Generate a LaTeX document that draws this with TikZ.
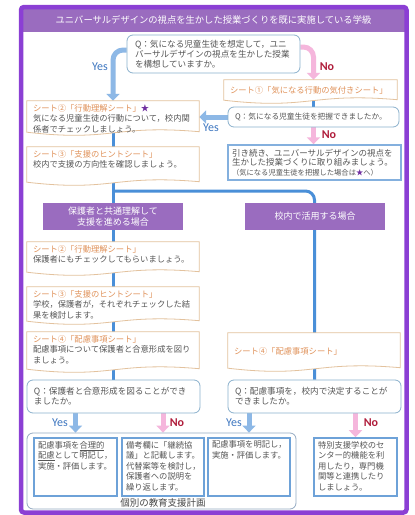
\documentclass[tikz,border=0pt]{standalone}
\usepackage{fontspec}
\setmainfont{Noto Sans CJK JP}
\newfontfamily\lat{Carlito}
\usetikzlibrary{arrows.meta,calc}
\definecolor{frameP}{HTML}{8B3FD4}
\definecolor{bandP}{HTML}{9A6CBF}
\definecolor{txt}{HTML}{555555}
\definecolor{orng}{HTML}{E0925A}
\definecolor{sheetB}{HTML}{E3C29E}
\definecolor{qB}{HTML}{8AB0CC}
\definecolor{lineB}{HTML}{4A8FD8}
\definecolor{yesA}{HTML}{8DB8E6}
\definecolor{noA}{HTML}{F5B6DC}
\definecolor{yesT}{HTML}{3D76C0}
\definecolor{noT}{HTML}{B01E3C}
\definecolor{ibB}{HTML}{6EA2D8}
\definecolor{bigB}{HTML}{94AAC2}
\definecolor{starP}{HTML}{7030A0}
\pgfdeclarelayer{back}
\pgfdeclarelayer{lines}
\pgfdeclarelayer{shapes}
\pgfsetlayers{back,lines,shapes,main}
\newcommand\tb[4][t]{\parbox[c][#3][#1]{#2}{\raggedright #4}}
\newcommand\sheetshape[1]{\path[sheetdraw] (#1.north west) -- (#1.north east) -- ([yshift=1.5pt]#1.south east) .. controls ([yshift=9pt]#1.south) and ([yshift=-9pt]#1.south) .. ([yshift=1pt]#1.south west) -- cycle;}
\begin{document}
\begin{tikzpicture}[x=1pt,y=-1pt,
  base/.style={text=txt, font=\fontsize{8.3pt}{10.5pt}\selectfont},
  qbox/.style={base, draw=qB, line width=0.8pt, fill=white, rounded corners=6pt, inner sep=0pt, align=left, font=\fontsize{8.6pt}{9.8pt}\selectfont},
  sheet/.style={base, inner xsep=6pt, inner ysep=3pt},
  sheetdraw/.style={draw=sheetB, line width=0.8pt, fill=white},
  ibox/.style={base, draw=ibB, line width=1.6pt, fill=white, inner xsep=4pt, inner ysep=3pt},
  kbox/.style={base, draw=ibB!85, line width=1.4pt, fill=white, inner sep=0pt, align=left, font=\fontsize{8.5pt}{9.7pt}\selectfont},
  plbl/.style={fill=bandP, text=white, align=center, inner sep=0pt, font=\fontsize{9pt}{11pt}\selectfont},
  bigbox/.style={draw=bigB, line width=0.8pt, rounded corners=6pt, inner sep=0pt},
  yn/.style={inner sep=0pt, font=\lat\fontsize{12pt}{12pt}\selectfont},
  yeslbl/.style={yn, text=yesT},
  nolbl/.style={yn, text=noT, font=\lat\bfseries\fontsize{12pt}{12pt}\selectfont},
  vline/.style={draw=lineB, line width=3pt},
  fatarr/.style={line width=5pt, -{Triangle[length=7pt,width=13pt]}},
  yesarr/.style={fatarr, draw=yesA},
  noarr/.style={fatarr, draw=noA}]
\useasboundingbox (0,0) rectangle (415,515);
% frame
\begin{pgfonlayer}{back}
\fill[white] (21,7) rectangle (406.5,512.5);
\fill[bandP] (21,7) rectangle (406.5,32);
\end{pgfonlayer}
\node[text=white, inner sep=0pt, font=\fontsize{9.3pt}{11pt}\selectfont] (ttl) at (213.5,19.5) {ユニバーサルデザインの視点を生かした授業づくりを既に実施している学級};
% questions
\node[qbox, minimum width=173pt, minimum height=38pt, text width=157pt] (q1) at (213.5,54) {Q：気になる児童生徒を想定して，ユニ\\バーサルデザインの視点を生かした授業\\を構想していますか。};
\node[qbox, minimum width=171pt, minimum height=20pt, text width=157pt, font=\fontsize{7.7pt}{9pt}\selectfont] (q2) at (313.5,117) {Q：気になる児童生徒を把握できましたか。};
\node[qbox, minimum width=173pt, minimum height=33pt, text width=159pt] (q3) at (113.5,396.5) {Q：保護者と合意形成を図ることができ\\ましたか。};
\node[qbox, minimum width=173pt, minimum height=33pt, text width=159pt] (q4) at (314.5,396.5) {Q：配慮事項を，校内で決定することが\\できましたか。};
% sheets
\node[sheet] (s1) at (310.5,90.5) {\tb[c]{161pt}{15pt}{\color{orng}シート①「気になる行動の気付きシート」}};
\node[sheet] (s2) at (113,117) {\tb{160pt}{26pt}{{\color{orng}シート②「行動理解シート」}{\color{starP}★}\\気になる児童生徒の行動について，校内関\\係者でチェックしましょう。}};
\node[sheet] (s3) at (113,165) {\tb{160pt}{30pt}{{\color{orng}シート③「支援のヒントシート」}\\校内で支援の方向性を確認しましょう。}};
\node[sheet] (s2b) at (113,257.5) {\tb{160pt}{25pt}{{\color{orng}シート②「行動理解シート」}\\保護者にもチェックしてもらいましょう。}};
\node[sheet] (s3b) at (113,304.5) {\tb{160pt}{29pt}{{\color{orng}シート③「支援のヒントシート」}\\学校，保護者が，それぞれチェックした結\\果を検討します。}};
\node[sheet] (s4) at (113,351) {\tb{160pt}{32pt}{{\color{orng}シート④「配慮事項シート」}\\配慮事項について保護者と合意形成を図り\\ましょう。}};
\node[sheet] (s4r) at (314,351) {\tb[c]{160pt}{30pt}{\color{orng}シート④「配慮事項シート」}};
% keep going box
\node[kbox, minimum width=173pt, minimum height=35pt, text width=165pt] (kb) at (314.5,162.5) {引き続き、ユニバーサルデザインの視点を\\生かした授業づくりに取り組みましょう。\\{\fontsize{7.3pt}{9pt}\selectfont （気になる児童生徒を把握した場合は{\color{starP}★}へ）}};
% purple labels
\node[plbl, minimum width=140pt, minimum height=27pt] (pl1) at (113,216.5) {保護者と共通理解して\\支援を進める場合};
\node[plbl, minimum width=140pt, minimum height=27pt] (pl2) at (315,216.5) {校内で活用する場合};
% bottom
\node[bigbox, minimum width=269pt, minimum height=76pt] (big) at (161.5,471) {};
\node[text=txt!85!black, inner sep=0pt, font=\fontsize{9.5pt}{11pt}\selectfont] (bigl) at (163,503) {個別の教育支援計画};
\node[ibox] (ib1) at (75.5,467) {\tb{75pt}{52pt}{配慮事項を\underline{合理的}\\\underline{配慮}として明記し，\\実施・評価します。}};
\node[ibox] (ib2) at (163,467) {\tb{74pt}{52pt}{備考欄に「継続協\\議」と記載します。\\代替案等を検討し，\\保護者への説明を\\繰り返します。}};
\node[ibox] (ib3) at (249,467) {\tb{74pt}{52pt}{配慮事項を明記し，\\実施・評価します。}};
\node[ibox] (ib4) at (355.5,467) {\tb{75pt}{52pt}{特別支援学校のセ\\ンター的機能を利\\用したり，専門機\\関等と連携したり\\しましょう。}};
% yes/no labels
\node[yeslbl] (y1) at (100,67) {Yes};
\node[nolbl] (n1) at (327,67) {No};
\node[yeslbl] (y2) at (211,128) {Yes};
\node[nolbl] (n2) at (329,135) {No};
\node[yeslbl] (y3) at (60,423) {Yes};
\node[nolbl] (n3) at (177,423) {No};
\node[yeslbl] (y4) at (234,423) {Yes};
\node[nolbl] (n4) at (371,423) {No};
\coordinate (br) at (113,191);
% sheet shapes
\begin{pgfonlayer}{shapes}
\sheetshape{s1}
\sheetshape{s2}
\sheetshape{s3}
\sheetshape{s2b}
\sheetshape{s3b}
\sheetshape{s4}
\sheetshape{s4r}
\end{pgfonlayer}
% connectors
\begin{pgfonlayer}{lines}
\draw[vline] (s2) -- (q3.north -| s2);
\draw[vline, rounded corners=9pt] (br) -| (q4.north);
\draw[vline] (s1 -| q2) -- (q2);
\draw[yesarr, rounded corners=10pt] ([yshift=4pt]q1.west) -| (s2.north);
\draw[noarr, rounded corners=10pt] ([yshift=7pt]q1.east) -| (s1.north -| q2.north);
\draw[yesarr] (q2.west) -- (q2.west -| s2.east);
\draw[noarr] (q2.south) -- (q2.south |- kb.north);
\draw[yesarr] (q3.south -| ib1) -- (ib1 |- big.north);
\draw[noarr] (q3.south -| ib2) -- (ib2 |- big.north);
\draw[yesarr] (q4.south -| ib3) -- (ib3 |- big.north);
\draw[noarr] (q4.south -| ib4) -- (ib4.north);
\end{pgfonlayer}
\draw[frameP, line width=4.5pt, rounded corners=3pt] (21,7) rectangle (406.5,512.5);
\end{tikzpicture}
\end{document}
